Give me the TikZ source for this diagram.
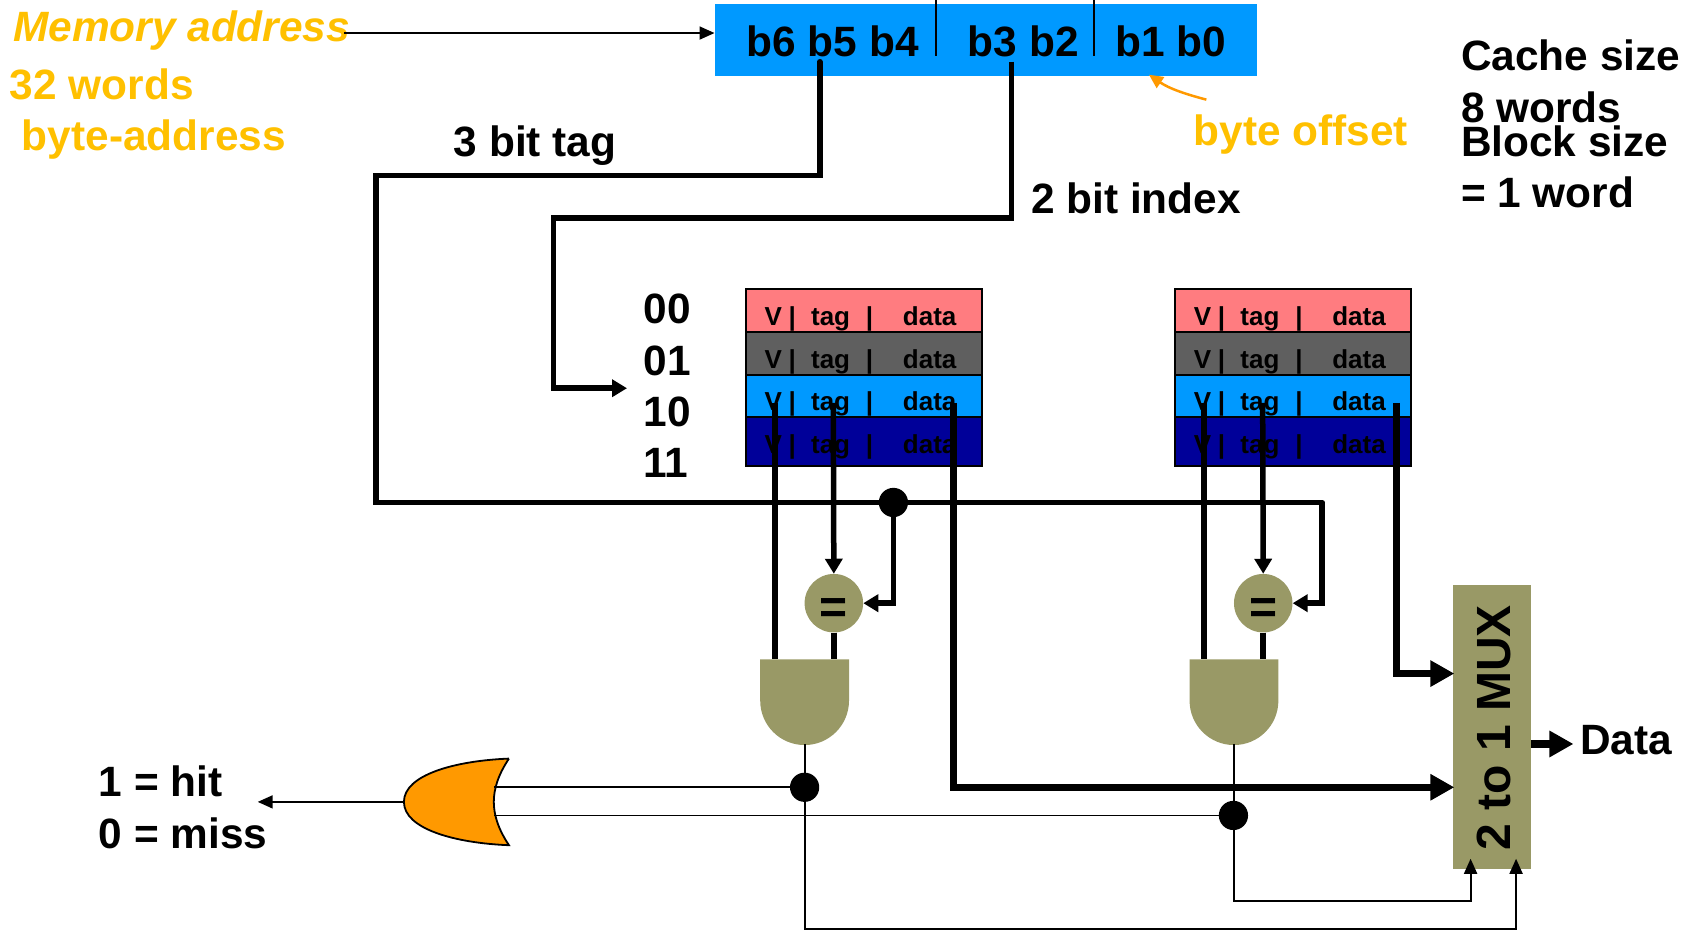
\documentclass[tikz,border=0pt]{standalone}
\usepackage{fontspec}
\setmainfont{Liberation Sans}
\usetikzlibrary{arrows.meta}
\definecolor{barblue}{HTML}{0099FF}
\definecolor{rowred}{HTML}{FF7C80}
\definecolor{rowgray}{HTML}{5F5F5F}
\definecolor{rownavy}{HTML}{000099}
\definecolor{gateolive}{HTML}{999966}
\definecolor{gold}{HTML}{FFC000}
\definecolor{orgate}{HTML}{FF9900}
\def\u{1.0829pt}
\begin{document}
\begin{tikzpicture}
[x=1.0829pt, y=-1.0829pt,
 lab/.style ={anchor=base west, inner sep=0pt, font=\fontsize{42.4}{42}\selectfont\bfseries},
 cell/.style ={anchor=base, inner sep=0pt, font=\fontsize{26}{26}\selectfont\bfseries},
 row/.style ={draw, line width=2pt, inner sep=0pt, minimum width=218*\u},
 dotnode/.style ={circle, fill=black, inner sep=0pt, minimum size=27*\u},
 eqgate/.style ={circle, fill=gateolive, inner sep=0pt, minimum size=54*\u, font=\fontsize{48}{48}\selectfont\bfseries},
 thinwire/.style ={line width=1.8pt},
 wire/.style ={line width=5.5pt},
 fatwire/.style ={line width=7.5pt},
 thintip/.style ={-{Triangle[length=15pt,width=13pt]}},
 midtip/.style ={-{Triangle[length=15pt,width=17pt]}},
 bigtip/.style ={-{Triangle[length=24pt,width=25pt]}}]
\useasboundingbox (0,0) rectangle (1568,858);
% address bar
\node[fill=barblue, inner sep=0pt, minimum width=501*\u, minimum height=66*\u] (addr) at (910.5,37) {};
\node[lab, anchor=base] (bits6) at (769,52) {b6 b5 b4};
\node[lab, anchor=base] (bits3) at (945,52) {b3 b2};
\node[lab, anchor=base] (bits1) at (1081,52) {b1 b0};
\coordinate (sepa) at (864,0); \coordinate (sepaend) at (864,52);
\coordinate (sepb) at (1010,0); \coordinate (sepbend) at (1010,52);
\draw[thinwire] (sepa) -- (sepaend);
\draw[thinwire] (sepb) -- (sepbend);
% left and right texts
\node[lab, gold, font=\fontsize{42.4}{42}\selectfont\bfseries\itshape] (memaddr) at (12,38) {Memory address};
\node[lab, gold] (words) at (9,92) {32 words};
\node[lab, gold] (byteaddr) at (20,139) {byte-address};
\node[lab, gold] (offset) at (1102,134) {byte offset};
\node[lab] (tagtxt) at (419,144.5) {3 bit tag};
\node[lab] (indextxt) at (952,197) {2 bit index};
\node[lab] (size) at (1349,65) {Cache size};
\node[lab] (eight) at (1349,113) {8 words};
\node[lab] (block) at (1349,144.5) {Block size};
\node[lab] (one) at (1349,192) {= 1 word};
\node[lab] (idxa) at (594,299) {00};
\node[lab] (idxb) at (594,347) {01};
\node[lab] (idxc) at (594,394) {10};
\node[lab] (idxd) at (594,441) {11};
\node[lab] (hit) at (91,735.5) {1 = hit};
\node[lab] (miss) at (91,783.5) {0 = miss};
\node[lab] (datatxt) at (1459,696.5) {Data};
% cache sets and gates
\foreach \s/\x in {a/0,b/396.5}{
  \foreach \n/\y/\h/\b/\c in {0/287/40/301/rowred,1/326.5/39/340/rowgray,2/365.5/39/379/barblue,3/407.5/45/419/rownavy}{
    \node[row, fill=\c, minimum height=\h*\u] (\s row\n) at (797.5+\x,\y) {};
    \node[cell] (\s v\n) at (714+\x,\b) {V};
    \node[cell] (\s bara\n) at (731.5+\x,\b) {|};
    \node[cell] (\s tag\n) at (767+\x,\b) {tag};
    \node[cell] (\s barb\n) at (803+\x,\b) {|};
    \node[cell] (\s data\n) at (858.5+\x,\b) {data};
  }
  \node[eqgate] (eq\s) at (770+\x,557) {\raisebox{-20pt}[0pt][0pt]{=}};
  \fill[gateolive] (702+\x,609) -- (784+\x,609) -- (784+\x,647) arc (0:180:41 and 41) -- cycle;
  \coordinate (and\s) at (743+\x,687);
  \coordinate (andv\s) at (715.5+\x,609);
  \coordinate (andt\s) at (770+\x,609);
  \coordinate (vout\s) at (715.5+\x,372);
  \coordinate (tout\s) at (769.5+\x,372);
  \draw[wire] (vout\s) -- (andv\s);
  \draw[wire, midtip] (tout\s) -- (eq\s.north);
  \draw[wire] (eq\s.south) -- (andt\s);
}
% or gate
\draw[line width=1.8pt, fill=orgate] (470,700.5) .. controls (420,702.5) and (373,715.5) .. (373,740.5)
  .. controls (373,765.5) and (420,778.5) .. (470,780.5) .. controls (460,765.5) and (456,752.5) .. (456,740.5)
  .. controls (456,728.5) and (460,715.5) .. (470,700.5);
% mux
\node[fill=gateolive, inner sep=0pt, minimum width=72*\u, minimum height=262*\u] (mux) at (1378,671) {};
\node[lab, anchor=center, rotate=90, font=\fontsize{48}{48}\selectfont\bfseries] (muxtxt) at (1380,672) {2 to 1 MUX};
% tag and index wires
\coordinate (bfive) at (757,57);
\coordinate (bthree) at (934,57);
\coordinate (tagturn) at (347,162);
\coordinate (busleft) at (347,464);
\coordinate (busright) at (1221,464);
\coordinate (idxturn) at (511,201.5);
\coordinate (idxdown) at (511,358.5);
\coordinate (idxend) at (579,358.5);
\node[dotnode] (busdot) at (825,464) {};
\draw[wire, line cap=round] (bfive) |- (tagturn) -- (busleft) -- (busright);
\draw[wire, midtip] (busright) |- (eqb.east);
\draw[wire, midtip] (busdot) |- (eqa.east);
\draw[wire, midtip] (bthree) |- (idxturn) -- (idxdown) -- (idxend);
% data wires
\coordinate (douta) at (880.5,372);
\coordinate (doutb) at (1289.5,372);
\coordinate (muxa) at (1343,727);
\coordinate (muxb) at (1343,622);
\draw[fatwire, bigtip] (douta) |- (muxa);
\draw[fatwire, bigtip] (doutb) |- (muxb);
\coordinate (muxout) at (1414,687);
\coordinate (dataend) at (1453,687);
\draw[fatwire, bigtip] (muxout) -- (dataend);
% hit wires
\node[dotnode] (hita) at (743,727) {};
\node[dotnode] (hitb) at (1139,753) {};
\coordinate (orup) at (456,727);
\coordinate (orlow) at (456,753);
\coordinate (ortip) at (373,740.5);
\coordinate (hitend) at (238,740.5);
\coordinate (selacorner) at (1400,857.5);
\coordinate (selbcorner) at (1358,832);
\coordinate (selatip) at (1400,793);
\coordinate (selbtip) at (1358,793);
\draw[thinwire] (orup) -- (hita);
\draw[thinwire] (orlow) -- (hitb);
\draw[thinwire, thintip] (ortip) -- (hitend);
\draw[thinwire, thintip] (anda) |- (selacorner) -- (selatip);
\draw[thinwire, thintip] (andb) |- (selbcorner) -- (selbtip);
% memory address arrow and byte offset
\coordinate (memstart) at (318,30.5);
\draw[thinwire, thintip] (memstart) -- (addr.west |- memstart);
\coordinate (offstart) at (1114,92);
\coordinate (offend) at (1061,69);
\draw[line width=2.5pt, orgate, -{Triangle[length=14pt,width=13pt]}] (offstart) .. controls (1095,87) and (1080,82) .. (offend);
\end{tikzpicture}
\end{document}
